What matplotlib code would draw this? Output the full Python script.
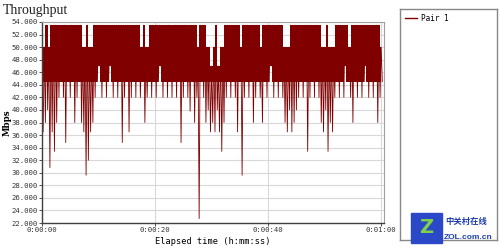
import numpy as np
import matplotlib
matplotlib.use("Agg")
import matplotlib.pyplot as plt
from matplotlib.patches import Rectangle

# one peak and one trough per 0.4 s sample pair (Mbps)
highs = [
    47.0, 50.0, 53.5, 50.0, 53.5, 53.5, 53.5, 53.5, 53.5, 53.5,
    53.5, 53.5, 53.5, 53.5, 53.5, 53.5, 53.5, 53.5, 50.0, 50.0,
    53.5, 50.0, 50.0, 53.5, 53.5, 53.5, 53.5, 53.5, 53.5, 53.5,
    53.5, 53.5, 53.5, 53.5, 53.5, 53.5, 53.5, 53.5, 53.5, 53.5,
    53.5, 53.5, 53.5, 53.5, 50.0, 53.5, 50.0, 50.0, 53.5, 53.5,
    53.5, 53.5, 53.5, 53.5, 53.5, 53.5, 53.5, 53.5, 53.5, 53.5,
    53.5, 53.5, 53.5, 53.5, 53.5, 53.5, 53.5, 53.5, 53.5, 50.0,
    53.5, 53.5, 53.5, 50.0, 50.0, 47.0, 50.0, 53.5, 47.0, 50.0,
    50.0, 53.5, 53.5, 53.5, 53.5, 53.5, 53.5, 53.5, 50.0, 53.5,
    53.5, 53.5, 53.5, 53.5, 53.5, 53.5, 53.5, 50.0, 53.5, 53.5,
    53.5, 53.5, 53.5, 53.5, 53.5, 53.5, 53.5, 50.0, 50.0, 50.0,
    53.5, 53.5, 53.5, 53.5, 53.5, 53.5, 53.5, 53.5, 53.5, 53.5,
    53.5, 53.5, 53.5, 53.5, 50.0, 50.0, 53.5, 50.0, 50.0, 50.0,
    53.5, 53.5, 53.5, 53.5, 53.5, 53.5, 50.0, 53.5, 53.5, 53.5,
    53.5, 53.5, 53.5, 53.5, 53.5, 53.5, 53.5, 53.5, 53.5, 53.5,
    50.0,
]
lows = [
    36.5, 38.0, 40.0, 30.8, 36.5, 33.4, 38.0, 42.0, 44.5, 42.0,
    34.8, 44.5, 42.0, 44.5, 38.0, 42.0, 44.5, 38.0, 36.5, 29.6,
    32.0, 36.5, 38.0, 42.0, 44.5, 47.0, 42.0, 44.5, 42.0, 44.5,
    47.0, 42.0, 44.5, 42.0, 44.5, 34.8, 42.0, 44.5, 36.5, 42.0,
    44.5, 42.0, 44.5, 42.0, 44.5, 38.0, 42.0, 44.5, 42.0, 44.5,
    42.0, 44.5, 47.0, 42.0, 44.5, 42.0, 44.5, 42.0, 44.5, 42.0,
    44.5, 34.8, 42.0, 44.5, 42.0, 39.8, 44.5, 38.0, 42.0, 22.7,
    44.5, 42.0, 38.0, 40.0, 36.5, 38.0, 36.5, 40.0, 36.5, 33.4,
    38.0, 42.0, 44.5, 42.0, 44.5, 42.0, 36.5, 44.5, 29.6, 42.0,
    44.5, 42.0, 44.5, 38.0, 42.0, 44.5, 42.0, 38.0, 44.5, 42.0,
    44.5, 47.0, 42.0, 44.5, 42.0, 44.5, 42.0, 38.0, 36.5, 40.0,
    36.5, 38.0, 40.0, 42.0, 44.5, 42.0, 44.5, 33.4, 42.0, 44.5,
    42.0, 44.5, 42.0, 38.0, 36.5, 40.0, 33.4, 38.0, 36.5, 42.0,
    44.5, 42.0, 44.5, 42.0, 47.0, 44.5, 42.0, 38.0, 44.5, 42.0,
    44.5, 42.0, 44.5, 47.0, 42.0, 44.5, 42.0, 44.5, 38.0, 42.0,
    44.5,
]
band_floor = 44.5  # bottom of the solid band
step = 0.4  # seconds per pair
yticks = [22, 24, 26, 28, 30, 32, 34, 36, 38, 40, 42, 44, 46, 48, 50, 52, 54]
xticks = [0, 20, 40, 60]
xticklabels = ["0:00:00", "0:00:20", "0:00:40", "0:01:00"]

n = len(highs)
tp = np.arange(n) * step
t = np.empty(2 * n)
y = np.empty(2 * n)
t[0::2] = tp
t[1::2] = tp + step / 2
y[0::2] = highs
y[1::2] = lows

fig = plt.figure(figsize=(5, 2.5), dpi=100)
ax = fig.add_axes([0.084, 0.108, 0.684, 0.804])

red = "#800000"
ax.fill_between(tp, np.maximum(lows, band_floor), highs, step="mid",
                color=red, lw=0)
ax.plot(t, y, color=red, lw=0.6, label="Pair 1")

ax.set_xlim(0, 60.5)
ax.set_ylim(22, 54)
ax.set_yticks(yticks)
ax.set_yticklabels(["%.3f" % v for v in yticks])
ax.set_xticks(xticks)
ax.set_xticklabels(xticklabels)
ax.grid(True, color="#d8d8d8", lw=0.8)
ax.set_axisbelow(True)
ax.tick_params(labelsize=5.2, length=2, width=0.6, colors="#333333", pad=1)
for lab in ax.get_xticklabels() + ax.get_yticklabels():
    lab.set_family("DejaVu Sans Mono")
for s in ["top", "right"]:
    ax.spines[s].set_color("#a0a0a0")
for s in ["left", "bottom"]:
    ax.spines[s].set_color("#404040")
    ax.spines[s].set_linewidth(1.0)

ax.set_xlabel("Elapsed time (h:mm:ss)", family="DejaVu Sans Mono", fontsize=6.2,
              labelpad=3)
ax.set_ylabel("Mbps", family="DejaVu Serif", fontsize=6.2, fontweight="bold",
              labelpad=0)

fig.text(0.006, 0.945, "Throughput", family="Liberation Serif", fontsize=10,
         color="#222222")

# legend box on the right
lax = fig.add_axes([0.8, 0.04, 0.194, 0.924])
lax.set_xticks([])
lax.set_yticks([])
for s in lax.spines.values():
    s.set_color("#888888")
    s.set_linewidth(1.0)
h, l = ax.get_legend_handles_labels()
leg = lax.legend(h, l, loc="upper left", frameon=False,
                 handlelength=1.6, borderaxespad=0.2, handletextpad=0.5,
                 prop={"family": "DejaVu Sans Mono", "size": 5.5})
for ln in leg.get_lines():
    ln.set_linewidth(1.0)

# watermark
fig.patches.append(Rectangle((0.822, 0.03), 0.062, 0.12, transform=fig.transFigure,
                             color="#2a48c8", zorder=5))
fig.text(0.853, 0.09, "Z", ha="center", va="center",
         fontsize=14, fontweight="bold", color="#7fd04a", zorder=6)
fig.text(0.89, 0.105, "中关村在线", family=["Noto Sans CJK SC", "DejaVu Sans"],
         fontsize=6, fontweight="bold", color="#1f3fb0", zorder=6)
fig.text(0.888, 0.045, "ZOL.com.cn", family="Liberation Sans", fontsize=6,
         fontweight="bold", color="#1f3fb0", zorder=6)

fig.savefig("out.png", dpi=100)
